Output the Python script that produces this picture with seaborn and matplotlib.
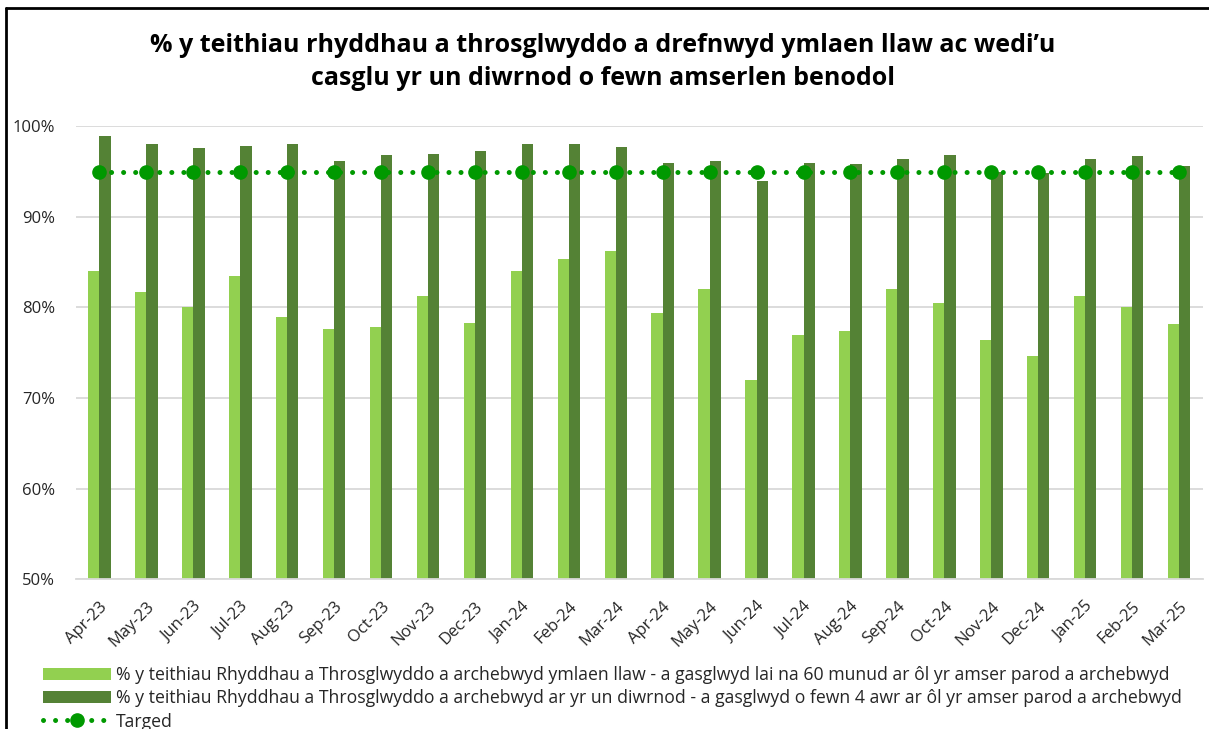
import numpy as np
import pandas as pd
import matplotlib
matplotlib.use("Agg")
import matplotlib.pyplot as plt
from matplotlib.lines import Line2D
from matplotlib.patches import Patch
import seaborn as sns

months = ["Apr-23", "May-23", "Jun-23", "Jul-23", "Aug-23", "Sep-23", "Oct-23", "Nov-23",
          "Dec-23", "Jan-24", "Feb-24", "Mar-24", "Apr-24", "May-24", "Jun-24", "Jul-24",
          "Aug-24", "Sep-24", "Oct-24", "Nov-24", "Dec-24", "Jan-25", "Feb-25", "Mar-25"]

pre_booked = [84.0, 81.7, 80.1, 83.5, 79.0, 77.6, 77.8, 81.3, 78.3, 84.0, 85.4, 86.2,
              79.4, 82.0, 72.0, 77.0, 77.4, 82.0, 80.5, 76.4, 74.7, 81.3, 80.1, 78.2]
same_day = [98.9, 98.0, 97.6, 97.8, 98.1, 96.2, 96.8, 96.9, 97.3, 98.0, 98.1, 97.7,
            95.9, 96.2, 94.0, 96.0, 95.8, 96.4, 96.8, 95.0, 94.8, 96.4, 96.7, 95.6]
target = [95.0] * 24

label_pre = ("% y teithiau Rhyddhau a Throsglwyddo a archebwyd ymlaen llaw - a gasglwyd lai na 60 "
             "munud ar ôl yr amser parod a archebwyd")
label_same = ("% y teithiau Rhyddhau a Throsglwyddo a archebwyd ar yr un diwrnod - a gasglwyd o fewn "
              "4 awr ar ôl yr amser parod a archebwyd")
label_target = "Targed"
title = ("% y teithiau rhyddhau a throsglwyddo a drefnwyd ymlaen llaw ac wedi\u2019u\n"
         "casglu yr un diwrnod o fewn amserlen benodol")

yticks = [50, 60, 70, 80, 90, 100]

col_pre = "#92d050"
col_same = "#548235"
col_target = "#009900"

sns.set_theme(style="white")
plt.rcParams["font.family"] = ["Open Sans", "DejaVu Sans"]

df = pd.DataFrame({
    "month": months * 2,
    "value": pre_booked + same_day,
    "series": [label_pre] * len(months) + [label_same] * len(months),
})

W, H = 1209, 729
fig = plt.figure(figsize=(W / 100, H / 100), dpi=100)
ax = fig.add_axes([76 / W, 1 - 579.3 / H, (1202.5 - 76) / W, (579.3 - 126.3) / H])

sns.barplot(data=df, x="month", y="value", hue="series", order=months,
            hue_order=[label_pre, label_same], palette=[col_pre, col_same],
            width=0.48, dodge=True, gap=0, ax=ax, legend=False, saturation=1,
            edgecolor="none", linewidth=0, errorbar=None)

xs = np.arange(len(months))
ax.plot(xs, target, color=col_target, lw=3.6, linestyle=(0, (0.01, 2.4)),
        dash_capstyle="round", marker="o", markersize=9.5, zorder=5)

ax.set_ylim(50, 100)
ax.set_xlim(-0.5, len(months) - 0.5)
ax.set_yticks(yticks)
ax.set_yticklabels([f"{v}%" for v in yticks], fontsize=12, color="#262626")
ax.yaxis.grid(True, color="#d9d9d9", lw=1.3)
ax.set_axisbelow(True)
ax.set_xlabel("")
ax.set_ylabel("")
for s in ["top", "right", "left"]:
    ax.spines[s].set_visible(False)
ax.spines["bottom"].set_color("#d9d9d9")
ax.spines["bottom"].set_linewidth(1.3)
ax.tick_params(axis="y", length=0, pad=15)
ax.set_xticks(xs)
ax.set_xticklabels(months, rotation=45, ha="right", rotation_mode="anchor",
                   fontsize=12, color="#262626")
ax.tick_params(axis="x", which="major", length=0, pad=14)
ax.set_xticks(np.arange(-0.5, len(months), 1), minor=True)
ax.tick_params(axis="x", which="minor", length=5, color="#d9d9d9", width=1.3)

fig.text(603 / W, 1 - 62 / H, title, ha="center", va="center", fontsize=18,
         fontweight="bold", color="black", linespacing=1.45)

handles = [
    Patch(facecolor=col_pre, edgecolor="none"),
    Patch(facecolor=col_same, edgecolor="none"),
    Line2D([0], [0], color=col_target, lw=3.6, linestyle=(0, (0.01, 2.4)),
           dash_capstyle="round", marker="o", markersize=9.5),
]
fs_leg = 12.7
fig.legend(handles, [label_pre, label_same, label_target], loc="upper left",
           bbox_to_anchor=(42.7 / W, 1 - 666 / H), frameon=False, borderpad=0,
           borderaxespad=0, handlelength=68 / (fs_leg * 100 / 72),
           handleheight=12 / (fs_leg * 100 / 72), handletextpad=0.3,
           labelspacing=0.3, fontsize=fs_leg, labelcolor="#262626")

fig.add_artist(Line2D([6 / W, 6 / W], [-0.01, 1 - 8 / H], color="black", lw=2,
                      transform=fig.transFigure))
fig.add_artist(Line2D([6 / W, 1.01], [1 - 8 / H, 1 - 8 / H], color="black", lw=2,
                      transform=fig.transFigure))

fig.savefig("out.png", dpi=100)
